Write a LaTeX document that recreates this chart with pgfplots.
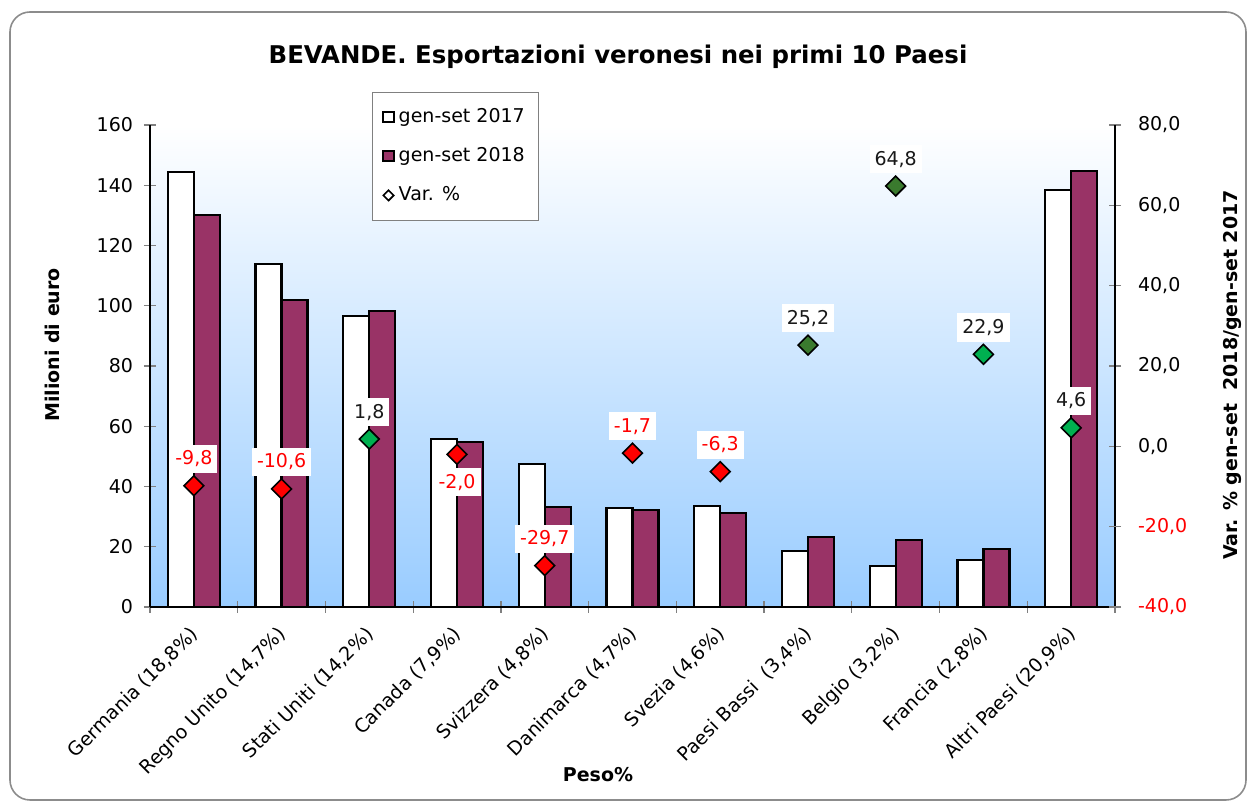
\documentclass[border=0pt]{standalone}
\usepackage{fontspec}
\setmainfont{DejaVu Sans}
\usepackage{pgfplots}
\pgfplotsset{compat=1.18}
\definecolor{maroon}{RGB}{153,51,102}
\definecolor{bgblue}{RGB}{153,204,255}
\definecolor{lgreen}{RGB}{0,176,80}
\definecolor{dgreen}{RGB}{58,122,46}
\definecolor{frame}{RGB}{140,140,140}
\newcommand{\fs}{\fontsize{9.5}{11.5}\selectfont}
\begin{document}
\begin{tikzpicture}
\path[use as bounding box] (-75pt,-98pt) rectangle (550pt,303.5pt);
\draw[frame, line width=0.8pt, rounded corners=10pt] (-70pt,-96.5pt) rectangle (548pt,297.5pt);
\begin{axis}[
  scale only axis, width=482.5pt, height=241pt,
  at={(0pt,0pt)}, anchor=south west,
  xmin=-0.5, xmax=10.5, ymin=0, ymax=160,
  ytick={0,20,...,160},
  axis x line*=bottom, axis y line*=left,
  axis line style={black, line width=0.6pt},
  axis background/.style={shade, top color=white, bottom color=bgblue},
  ybar=0pt, bar width=13pt,
  xtick={0,...,10},
  xticklabels={Germania (18{,}8\%), Regno Unito (14{,}7\%), Stati Uniti (14{,}2\%), Canada (7{,}9\%), Svizzera (4{,}8\%), Danimarca (4{,}7\%), Svezia (4{,}6\%), Paesi Bassi\ \ (3{,}4\%), Belgio (3{,}2\%), Francia (2{,}8\%), Altri Paesi (20{,}9\%)},
  major x tick style={draw=none},
  minor xtick={-0.5,0.5,...,10.5},
  minor x tick style={draw=gray, line width=0.6pt},
  minor tick length=6pt,
  major y tick style={gray, line width=0.6pt},
  major tick length=6pt,
  tick align=center,
  xticklabel style={xshift=-2.5pt, yshift=-4.5pt, rotate=45, anchor=north east, font=\fs, inner sep=1pt},
  yticklabel style={font=\fs, xshift=-2pt},
  /pgf/number format/assume math mode=true,
  legend style={at={(axis description cs:0.230,1.068)}, anchor=north west,
    draw=gray, fill=white, font=\fs, row sep=7pt, inner xsep=5pt, inner ysep=6pt,
    legend cell align=left, /tikz/every odd column/.append style={column sep=0pt}},
]
\addplot[forget plot, bar shift=-6.5pt, fill=white, draw=black, line width=1.1pt] coordinates {
(0,144.3) (1,113.9) (2,96.6) (3,55.8) (4,47.5) (5,32.9) (6,33.5) (7,18.6) (8,13.6) (9,15.6) (10,138.4)};
\addplot[forget plot, bar shift=6.5pt, fill=maroon, draw=black, line width=1.1pt] coordinates {
(0,130.2) (1,101.9) (2,98.3) (3,54.8) (4,33.2) (5,32.3) (6,31.3) (7,23.2) (8,22.3) (9,19.3) (10,144.7)};
\addlegendimage{legend image code/.code={\draw[fill=white, draw=black, line width=1pt] (0pt,-2.6pt) rectangle (5.2pt,2.6pt);}}
\addlegendentry{gen-set 2017}
\addlegendimage{legend image code/.code={\draw[fill=maroon, draw=black, line width=1pt] (0pt,-2.6pt) rectangle (5.2pt,2.6pt);}}
\addlegendentry{gen-set 2018}
\addlegendimage{legend image code/.code={\draw[fill=white, draw=black, line width=0.8pt] (0pt,0pt) -- (2.6pt,2.6pt) -- (5.2pt,0pt) -- (2.6pt,-2.6pt) -- cycle;}}
\addlegendentry{Var. \%}
\end{axis}
\begin{axis}[
  scale only axis, width=482.5pt, height=241pt,
  at={(0pt,0pt)}, anchor=south west,
  xmin=-0.5, xmax=10.5, ymin=-40, ymax=80,
  hide x axis, axis y line*=right,
  axis line style={black, line width=0.6pt},
  ytick={0,20,...,80},
  extra y ticks={-40,-20},
  extra y tick style={yticklabel style={text=red}},
  major y tick style={gray, line width=0.6pt},
  major tick length=6pt, tick align=center,
  yticklabel style={font=\fs, xshift=5pt},
  /pgf/number format/fixed, /pgf/number format/fixed zerofill,
  /pgf/number format/precision=1, /pgf/number format/use comma,
  /pgf/number format/assume math mode=true,
  only marks, mark=square*, mark size=3.5pt,
  nodes near coords,
  nodes near coords style={fill=white, inner xsep=2.5pt, inner ysep=3pt, font=\fs, anchor=south, yshift=6pt},
]
\addplot[mark options={rotate=45, fill=red, draw=black, line width=0.8pt},
  nodes near coords style={text=red}] coordinates {
(0,-9.8) (1,-10.6) (4,-29.7) (5,-1.7) (6,-6.3)};
\addplot[mark options={rotate=45, fill=red, draw=black, line width=0.8pt},
  nodes near coords style={text=red, anchor=north, yshift=-12.5pt}] coordinates {
(3,-2.0)};
\addplot[mark options={rotate=45, fill=lgreen, draw=black, line width=0.8pt},
  nodes near coords style={text=black!90}] coordinates {
(2,1.8) (9,22.9) (10,4.6)};
\addplot[mark options={rotate=45, fill=dgreen, draw=black, line width=0.8pt},
  nodes near coords style={text=black!90}] coordinates {
(7,25.2) (8,64.8)};
\end{axis}
\node[font=\bfseries\fontsize{12.2}{14}\selectfont] at (234pt,275pt) {BEVANDE. Esportazioni veronesi nei primi 10 Paesi};
\node[font=\bfseries\fs, rotate=90] at (-49pt,131pt) {Milioni di euro};
\node[font=\bfseries\fs, rotate=90] at (541pt,116pt) {Var. \% gen-set\ \ 2018/gen-set 2017};
\node[font=\bfseries\fs] at (224pt,-84pt) {Peso\%};
\end{tikzpicture}
\end{document}
